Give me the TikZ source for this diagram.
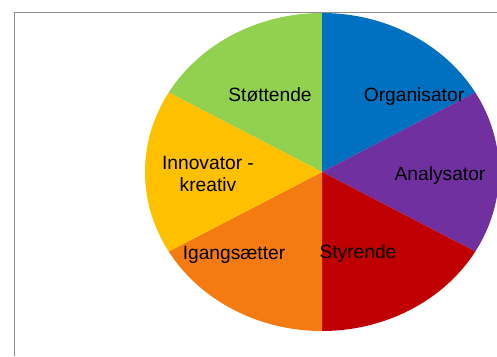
\documentclass[tikz,border=0pt]{standalone}
\usepackage{fontspec}
\setmainfont{Liberation Sans}
\usepackage{xcolor}
\usetikzlibrary{calc}

\definecolor{stotgreen}{HTML}{92D050}
\definecolor{orgblue}{HTML}{0070C0}
\definecolor{anapurple}{HTML}{7030A0}
\definecolor{styred}{HTML}{C00000}
\definecolor{igorange}{HTML}{F47A12}
\definecolor{innyellow}{HTML}{FFC000}
\definecolor{framegray}{HTML}{8C8C8C}

\begin{document}
\begin{tikzpicture}[x=1pt, y=1pt, label/.style={font=\fontsize{19.2}{21.5}\selectfont, align=center, inner sep=0pt}]
\useasboundingbox (0,0) rectangle (497,356);

% Frame
\draw[framegray, line width=1pt] (14,0) -- (14,343) -- (497,343);

% Pie
\coordinate (C) at (322,184);
\foreach \a/\b/\col in {90/150/stotgreen, 30/90/orgblue, -30/30/anapurple, -90/-30/styred, -150/-90/igorange, 150/210/innyellow}
  \fill[\col] (C) -- ($(C)+(\a:177 and 159)$) arc[start angle=\a, end angle=\b, x radius=177, y radius=159] -- cycle;

% Labels
\node[label] (stot) at (270,261) {Støttende};
\node[label] (org) at (414,259) {Organisator};
\node[label] (ana) at (440,180) {Analysator};
\node[label] (inn) at (208,182) {Innovator -\\kreativ};
\node[label] (ig) at (234,101) {Igangsætter};
\node[label] (sty) at (358,102) {Styrende};
\end{tikzpicture}
\end{document}
